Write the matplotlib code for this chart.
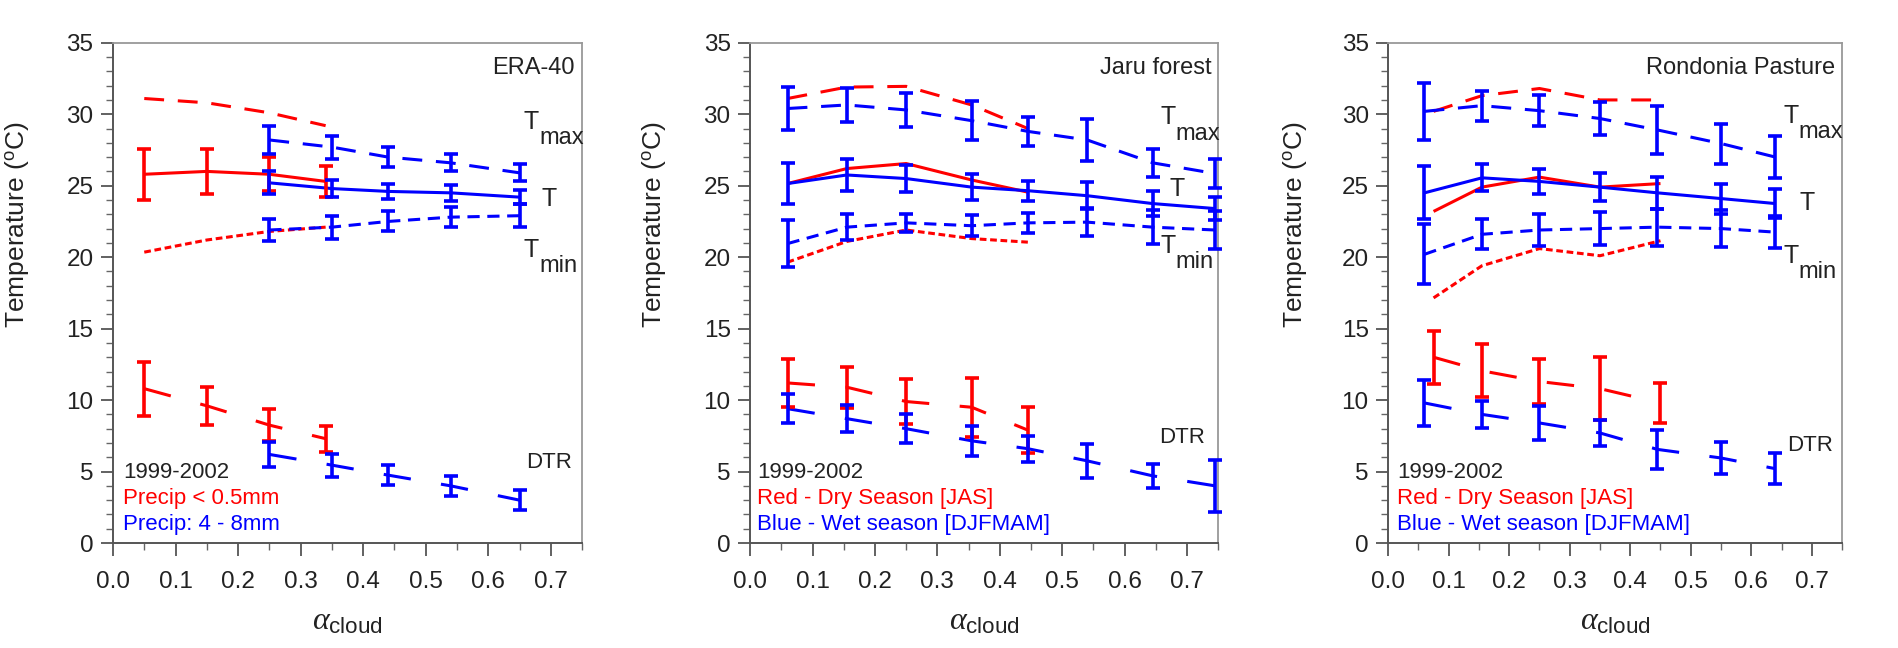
import matplotlib
matplotlib.use("Agg")
import matplotlib.pyplot as plt
from matplotlib.ticker import MultipleLocator

plt.rcParams["font.family"] = ["Liberation Sans", "DejaVu Sans"]
plt.rcParams["mathtext.fontset"] = "custom"
plt.rcParams["mathtext.rm"] = "Liberation Sans"
plt.rcParams["mathtext.it"] = "Liberation Serif:italic"

# ---- ERA-40 ----
era_red_x = [0.05, 0.15, 0.25, 0.34]
era_red_tmax = [31.1, 30.8, 30.1, 29.2]
era_red_t = [25.8, 26.0, 25.8, 25.3]
era_red_t_err = [1.8, 1.6, 1.2, 1.1]
era_red_tmin = [20.35, 21.2, 21.8, 22.1]
era_red_dtr = [10.8, 9.6, 8.25, 7.3]
era_red_dtr_err = [1.9, 1.35, 1.1, 0.9]

era_blue_x = [0.25, 0.35, 0.44, 0.54, 0.65]
era_blue_tmax = [28.2, 27.7, 27.0, 26.6, 25.9]
era_blue_tmax_err = [1.0, 0.8, 0.7, 0.6, 0.6]
era_blue_t = [25.2, 24.8, 24.6, 24.5, 24.2]
era_blue_t_err = [0.8, 0.6, 0.5, 0.55, 0.5]
era_blue_tmin = [21.9, 22.1, 22.5, 22.8, 22.9]
era_blue_tmin_err = [0.75, 0.8, 0.7, 0.7, 0.8]
era_blue_dtr = [6.2, 5.45, 4.75, 4.0, 3.0]
era_blue_dtr_err = [0.9, 0.8, 0.7, 0.7, 0.7]

# ---- Jaru forest ----
jaru_red_x = [0.06, 0.155, 0.25, 0.355, 0.445]
jaru_red_tmax = [31.1, 31.9, 31.95, 30.65, 29.0]
jaru_red_t = [25.15, 26.2, 26.55, 25.4, 24.55]
jaru_red_tmin = [19.65, 21.1, 21.9, 21.3, 21.05]
jaru_red_dtr = [11.2, 10.9, 9.9, 9.5, 7.9]
jaru_red_dtr_err = [1.7, 1.45, 1.6, 2.05, 1.6]

jaru_blue_x = [0.06, 0.155, 0.25, 0.355, 0.445, 0.54, 0.645, 0.745]
jaru_blue_tmax = [30.4, 30.65, 30.3, 29.55, 28.8, 28.2, 26.6, 25.85]
jaru_blue_tmax_err = [1.5, 1.2, 1.2, 1.35, 1.0, 1.45, 1.0, 1.0]
jaru_blue_t = [25.15, 25.75, 25.5, 24.9, 24.65, 24.3, 23.75, 23.4]
jaru_blue_t_err = [1.45, 1.1, 0.95, 0.9, 0.7, 0.95, 0.9, 0.8]
jaru_blue_tmin = [20.95, 22.1, 22.4, 22.2, 22.4, 22.45, 22.1, 21.9]
jaru_blue_tmin_err = [1.65, 0.9, 0.65, 0.75, 0.7, 1.0, 1.2, 1.3]
jaru_blue_dtr = [9.4, 8.7, 8.0, 7.15, 6.6, 5.75, 4.7, 4.0]
jaru_blue_dtr_err = [1.0, 0.95, 1.0, 1.05, 0.9, 1.2, 0.85, 1.8]

# ---- Rondonia Pasture ----
ron_red_x = [0.075, 0.155, 0.25, 0.35, 0.45]
ron_red_tmax = [30.2, 31.3, 31.8, 31.0, 31.0]
ron_red_t = [23.2, 24.9, 25.6, 24.9, 25.15]
ron_red_tmin = [17.15, 19.4, 20.6, 20.1, 21.15]
ron_red_dtr = [13.0, 12.05, 11.3, 10.8, 9.8]
ron_red_dtr_err = [1.85, 1.85, 1.6, 2.2, 1.4]

ron_blue_x = [0.06, 0.155, 0.25, 0.35, 0.445, 0.55, 0.64]
ron_blue_tmax = [30.2, 30.6, 30.25, 29.7, 28.9, 27.95, 27.0]
ron_blue_tmax_err = [2.0, 1.05, 1.1, 1.15, 1.65, 1.4, 1.45]
ron_blue_t = [24.5, 25.55, 25.3, 24.9, 24.5, 24.1, 23.75]
ron_blue_t_err = [1.85, 0.95, 0.85, 1.0, 1.1, 1.05, 1.0]
ron_blue_tmin = [20.2, 21.6, 21.9, 22.0, 22.1, 22.0, 21.75]
ron_blue_tmin_err = [2.1, 1.05, 1.1, 1.15, 1.3, 1.3, 1.1]
ron_blue_dtr = [9.8, 9.0, 8.4, 7.7, 6.55, 5.95, 5.2]
ron_blue_dtr_err = [1.6, 0.95, 1.2, 0.9, 1.35, 1.1, 1.1]

RED = "#ff0000"
BLUE = "#0000ff"
TXT = "#222222"
LW = 2.2
DASH_TMAX = (6.5, 4.5)
DASH_TMIN_BLUE = (4.0, 2.5)
DASH_TMIN_RED = (2.2, 1.2)
DASH_DTR = (9.0, 10.0)


def line(ax, x, y, color, dashes=None):
    if dashes is None:
        ax.plot(x, y, color=color, lw=LW, solid_capstyle="butt")
    else:
        ax.plot(x, y, color=color, lw=LW, dashes=dashes)


def bars(ax, x, y, err, color):
    ax.errorbar(x, y, yerr=err, fmt="none", ecolor=color, elinewidth=2.6,
                capsize=5, capthick=2.6, clip_on=False, zorder=3)


def style_axes(ax, name):
    ax.set_xlim(0, 0.75)
    ax.set_ylim(0, 35)
    ax.xaxis.set_minor_locator(MultipleLocator(0.05))
    ax.yaxis.set_major_locator(MultipleLocator(5))
    ax.yaxis.set_minor_locator(MultipleLocator(1))
    ax.set_xticks([0.0, 0.1, 0.2, 0.3, 0.4, 0.5, 0.6, 0.7])
    ax.set_xticklabels(["0.0", "0.1", "0.2", "0.3", "0.4", "0.5", "0.6", "0.7"])
    ax.tick_params(which="major", direction="out", length=9, width=1.3,
                   color="#555555", labelsize=17.5, labelcolor=TXT, pad=5)
    ax.tick_params(which="minor", direction="out", length=5, width=1.0,
                   color="#666666")
    ax.tick_params(axis="x", which="major", pad=11)
    for s in ["left", "bottom"]:
        ax.spines[s].set_color("#555555")
        ax.spines[s].set_linewidth(1.4)
    for s in ["top", "right"]:
        ax.spines[s].set_color("#999999")
        ax.spines[s].set_linewidth(1.3)
    ax.set_ylabel(r"Temperature ($^{\mathrm{o}}$C)", fontsize=19, color=TXT)
    ax.yaxis.set_label_coords(-0.175, 0.636)
    ax.set_xlabel(r"$\alpha_{\mathrm{cloud}}$", fontsize=23, color=TXT,
                  labelpad=10)
    ax.text(0.985, 0.95, name, transform=ax.transAxes, ha="right", va="center",
            fontsize=17, color=TXT)


def sub_label(ax, x, y, sub):
    ax.text(x, y, "T", fontsize=18, color=TXT, va="baseline")
    ax.annotate(sub, xy=(x, y), xytext=(11, -11), textcoords="offset points",
                fontsize=17, color=TXT, va="baseline")


fig = plt.figure(figsize=(18.99, 6.48), dpi=100)
fig.patch.set_facecolor("white")
ax1 = fig.add_axes([0.0595, 0.162, 0.247, 0.772])
ax2 = fig.add_axes([0.395, 0.162, 0.2465, 0.772])
ax3 = fig.add_axes([0.731, 0.162, 0.239, 0.772])

# Panel 1: ERA-40
line(ax1, era_red_x, era_red_tmax, RED, DASH_TMAX)
line(ax1, era_red_x, era_red_t, RED)
bars(ax1, era_red_x, era_red_t, era_red_t_err, RED)
line(ax1, era_red_x, era_red_tmin, RED, DASH_TMIN_RED)
line(ax1, era_red_x, era_red_dtr, RED, DASH_DTR)
bars(ax1, era_red_x, era_red_dtr, era_red_dtr_err, RED)
for yv, ev, d in [(era_blue_tmax, era_blue_tmax_err, DASH_TMAX),
                  (era_blue_t, era_blue_t_err, None),
                  (era_blue_tmin, era_blue_tmin_err, DASH_TMIN_BLUE),
                  (era_blue_dtr, era_blue_dtr_err, DASH_DTR)]:
    line(ax1, era_blue_x, yv, BLUE, d)
    bars(ax1, era_blue_x, yv, ev, BLUE)
style_axes(ax1, "ERA-40")
ax1.text(0.016, 4.9, "1999-2002", fontsize=16, color=TXT, va="center")
ax1.text(0.016, 3.1, "Precip < 0.5mm", fontsize=16, color=RED, va="center")
ax1.text(0.016, 1.3, "Precip: 4 - 8mm", fontsize=16, color=BLUE, va="center")

# Panel 2: Jaru forest
line(ax2, jaru_red_x, jaru_red_tmax, RED, DASH_TMAX)
line(ax2, jaru_red_x, jaru_red_t, RED)
line(ax2, jaru_red_x, jaru_red_tmin, RED, DASH_TMIN_RED)
line(ax2, jaru_red_x, jaru_red_dtr, RED, DASH_DTR)
bars(ax2, jaru_red_x, jaru_red_dtr, jaru_red_dtr_err, RED)
for yv, ev, d in [(jaru_blue_tmax, jaru_blue_tmax_err, DASH_TMAX),
                  (jaru_blue_t, jaru_blue_t_err, None),
                  (jaru_blue_tmin, jaru_blue_tmin_err, DASH_TMIN_BLUE),
                  (jaru_blue_dtr, jaru_blue_dtr_err, DASH_DTR)]:
    line(ax2, jaru_blue_x, yv, BLUE, d)
    bars(ax2, jaru_blue_x, yv, ev, BLUE)
style_axes(ax2, "Jaru forest")
ax2.text(0.011, 4.9, "1999-2002", fontsize=16, color=TXT, va="center")
ax2.text(0.011, 3.1, "Red - Dry Season [JAS]", fontsize=16, color=RED, va="center")
ax2.text(0.011, 1.3, "Blue - Wet season [DJFMAM]", fontsize=16, color=BLUE, va="center")

# Panel 3: Rondonia Pasture
line(ax3, ron_red_x, ron_red_tmax, RED, DASH_TMAX)
line(ax3, ron_red_x, ron_red_t, RED)
line(ax3, ron_red_x, ron_red_tmin, RED, DASH_TMIN_RED)
line(ax3, ron_red_x, ron_red_dtr, RED, DASH_DTR)
bars(ax3, ron_red_x, ron_red_dtr, ron_red_dtr_err, RED)
for yv, ev, d in [(ron_blue_tmax, ron_blue_tmax_err, DASH_TMAX),
                  (ron_blue_t, ron_blue_t_err, None),
                  (ron_blue_tmin, ron_blue_tmin_err, DASH_TMIN_BLUE),
                  (ron_blue_dtr, ron_blue_dtr_err, DASH_DTR)]:
    line(ax3, ron_blue_x, yv, BLUE, d)
    bars(ax3, ron_blue_x, yv, ev, BLUE)
style_axes(ax3, "Rondonia Pasture")
ax3.text(0.015, 4.9, "1999-2002", fontsize=16, color=TXT, va="center")
ax3.text(0.015, 3.1, "Red - Dry Season [JAS]", fontsize=16, color=RED, va="center")
ax3.text(0.015, 1.3, "Blue - Wet season [DJFMAM]", fontsize=16, color=BLUE, va="center")

# series labels on the right of each panel
series_labels = [
    (ax1, 0.657, 29.0, 0.685, 23.6, 0.657, 20.0, 0.66, 5.6),
    (ax2, 0.657, 29.3, 0.672, 24.3, 0.657, 20.3, 0.655, 7.4),
    (ax3, 0.653, 29.4, 0.68, 23.3, 0.653, 19.6, 0.66, 6.8),
]
for ax, xa, ya, xb, yb, xc, yc, xd, yd in series_labels:
    sub_label(ax, xa, ya, "max")
    ax.text(xb, yb, "T", fontsize=18, color=TXT, va="baseline")
    sub_label(ax, xc, yc, "min")
    ax.text(xd, yd, "DTR", fontsize=16, color=TXT, va="center")

plt.savefig("out.png", dpi=100, facecolor="white")
plt.close()
